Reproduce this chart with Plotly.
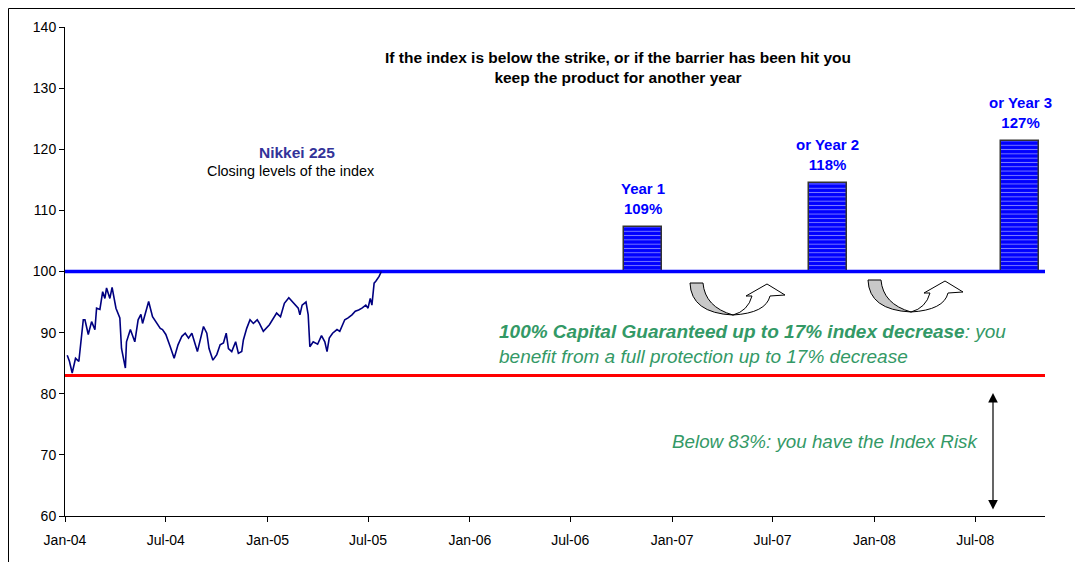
import plotly.graph_objects as go

# ---------------- data ----------------
nikkei_dates = [
    "2004-01-05", "2004-01-09", "2004-01-14", "2004-01-20", "2004-01-26", "2004-02-03",
    "2004-02-06", "2004-02-12", "2004-02-18", "2004-02-24", "2004-02-27", "2004-03-04",
    "2004-03-09", "2004-03-13", "2004-03-16", "2004-03-22", "2004-03-26", "2004-04-02",
    "2004-04-09", "2004-04-12", "2004-04-19", "2004-04-21", "2004-04-28", "2004-05-06",
    "2004-05-12", "2004-05-17", "2004-05-20", "2004-05-31", "2004-06-07", "2004-06-15",
    "2004-06-21", "2004-06-25", "2004-07-01", "2004-07-09", "2004-07-16", "2004-07-23",
    "2004-07-30", "2004-08-05", "2004-08-11", "2004-08-17", "2004-08-23", "2004-08-27",
    "2004-09-07", "2004-09-13", "2004-09-17", "2004-09-24", "2004-10-01", "2004-10-07",
    "2004-10-13", "2004-10-18", "2004-10-22", "2004-10-28", "2004-11-04", "2004-11-09",
    "2004-11-15", "2004-11-18", "2004-11-24", "2004-11-30", "2004-12-06", "2004-12-13",
    "2004-12-17", "2004-12-24", "2005-01-04", "2005-01-11", "2005-01-17", "2005-01-24",
    "2005-01-31", "2005-02-08", "2005-02-14", "2005-02-18", "2005-02-25", "2005-02-28",
    "2005-03-04", "2005-03-11", "2005-03-15", "2005-03-18", "2005-03-24", "2005-04-01",
    "2005-04-08", "2005-04-14", "2005-04-18", "2005-04-22", "2005-04-28", "2005-05-06",
    "2005-05-11", "2005-05-20", "2005-05-26", "2005-06-02", "2005-06-08", "2005-06-14",
    "2005-06-20", "2005-06-27", "2005-07-01", "2005-07-05", "2005-07-08", "2005-07-12",
    "2005-07-15", "2005-07-21", "2005-07-25",
]
nikkei_values = [
    86.3, 85.3, 83.4, 85.8, 85.3, 92.1,
    92.1, 89.7, 91.8, 90.5, 94.0, 93.8,
    96.7, 95.6, 97.3, 95.6, 97.4, 94.0,
    92.4, 87.4, 84.2, 88.5, 90.5, 88.5,
    92.1, 93.0, 91.5, 95.1, 92.6, 91.5,
    90.7, 90.5, 89.7, 87.7, 85.8, 88.0,
    89.4, 89.9, 89.1, 89.9, 88.0, 86.9,
    91.0, 89.9, 87.4, 85.5, 86.4, 88.0,
    88.3, 89.9, 87.4, 86.9, 88.5, 86.6,
    86.9, 88.8, 90.7, 92.1, 91.5, 92.1,
    91.5, 90.2, 91.3, 92.4, 93.2, 92.6,
    94.8, 95.7, 95.1, 94.8, 94.0, 92.9,
    94.5, 95.0, 92.9, 87.7, 88.5, 88.1,
    89.5, 88.5, 86.9, 89.1, 89.9, 90.5,
    90.2, 92.1, 92.4, 92.9, 93.5, 93.7,
    94.0, 94.5, 94.0, 95.6, 94.5, 98.1,
    98.4, 99.2, 100.0,
]

coupon_dates = ["2006-11-09", "2007-10-09", "2008-09-20"]
coupon_bar_tops = [107.2, 114.5, 121.3]
coupon_labels = ["Year 1<br>109%", "or Year 2<br>118%", "or Year 3<br>127%"]

strike_level = 100
barrier_level = 83

axis_start = "2004-01-01"
axis_end = "2008-11-04"

tick_dates = ["2004-01-01", "2004-07-01", "2005-01-01", "2005-07-01", "2006-01-01",
              "2006-07-01", "2007-01-01", "2007-07-01", "2008-01-01", "2008-07-01"]
tick_labels = ["Jan-04", "Jul-04", "Jan-05", "Jul-05", "Jan-06",
               "Jul-06", "Jan-07", "Jul-07", "Jan-08", "Jul-08"]
y_ticks = [60, 70, 80, 90, 100, 110, 120, 130, 140]

# ---------------- layout helpers ----------------
# page is rendered with an 8px body margin
OFF = 8
W, H = 1083 - OFF, 562 - OFF
PX0, PX1, PY0, PY1 = 65, 1045, 27, 516          # plot area in page pixels
L, R = PX0 - OFF, W - (PX1 - OFF)
T, B = PY0 - OFF, H - (PY1 - OFF)
PW, PH = PX1 - PX0, PY1 - PY0


def fx(X):
    return (X - PX0) / PW


def fy(Y):
    return (PY1 - Y) / PH


def path(points_cmds, ox, oy):
    out = []
    for cmd, pts in points_cmds:
        coords = " ".join(f"{fx(ox + a):.5f},{fy(oy + b):.5f}" for a, b in pts)
        out.append(f"{cmd} {coords}")
    return " ".join(out) + " Z"


FONT = "Arial, Liberation Sans, sans-serif"
GREEN = "#339966"
BAR_BLUE = "#0000FF"

fig = go.Figure()

fig.add_trace(go.Bar(
    x=coupon_dates,
    y=[t - strike_level for t in coupon_bar_tops],
    base=strike_level,
    width=[68 * 86400000] * len(coupon_dates),
    marker=dict(color=BAR_BLUE,
                pattern=dict(shape="-", fgcolor="white", size=4.3, solidity=0.22,
                             fillmode="overlay"),
                line=dict(color="#333333", width=1.5)),
    showlegend=False, hoverinfo="skip",
))

fig.add_trace(go.Scatter(
    x=[axis_start, axis_end], y=[strike_level, strike_level], mode="lines",
    line=dict(color="#0000FF", width=3.5), showlegend=False, hoverinfo="skip",
    cliponaxis=False,
))
fig.add_trace(go.Scatter(
    x=[axis_start, axis_end], y=[barrier_level, barrier_level], mode="lines",
    line=dict(color="#FF0000", width=3), showlegend=False, hoverinfo="skip",
    cliponaxis=False,
))
fig.add_trace(go.Scatter(
    x=nikkei_dates, y=nikkei_values, mode="lines",
    line=dict(color="#000080", width=1.6), showlegend=False,
))

annotations = []
for d, top, lab in zip(coupon_dates, coupon_bar_tops, coupon_labels):
    annotations.append(dict(x=d, y=top, xref="x", yref="y", text=f"<b>{lab}</b>",
                            showarrow=False, yanchor="bottom", yshift=8,
                            font=dict(family=FONT, size=15, color=BAR_BLUE)))

annotations += [
    dict(x=fx(618), y=fy(67), xref="paper", yref="paper",
         text="<b>If the index is below the strike, or if the barrier has been hit you<br>keep the product for another year</b>",
         showarrow=False, font=dict(family=FONT, size=15.5, color="black"),
         align="center", xanchor="center", yanchor="middle"),
    dict(x=fx(297), y=fy(153), xref="paper", yref="paper",
         text="<b>Nikkei 225</b>",
         showarrow=False, font=dict(family=FONT, size=15.5, color="#333399"),
         align="center", xanchor="center", yanchor="middle"),
    dict(x=fx(291), y=fy(171), xref="paper", yref="paper",
         text="Closing levels of the index",
         showarrow=False, font=dict(family=FONT, size=14.4, color="black"),
         align="center", xanchor="center", yanchor="middle"),
    dict(x=fx(497), y=fy(344), xref="paper", yref="paper",
         text="<b><i>100% Capital Guaranteed up to 17% index decrease</i></b><i>: you</i><br><i>benefit from a full protection up to 17% decrease</i>",
         showarrow=False, font=dict(family=FONT, size=19, color=GREEN),
         align="left", xanchor="left", yanchor="middle"),
    dict(x=fx(825), y=fy(441), xref="paper", yref="paper",
         text="<i>Below 83%: you have the Index Risk</i>",
         showarrow=False, font=dict(family=FONT, size=18.8, color=GREEN),
         align="center", xanchor="center", yanchor="middle"),
    dict(x=fx(993), y=fy(393), xref="paper", yref="paper", text="",
         showarrow=True, ax=0, ay=118, axref="pixel", ayref="pixel",
         arrowhead=2, arrowside="end+start", arrowsize=1.6, arrowwidth=1.2,
         arrowcolor="black"),
]

shapes = []
for ox, oy in [(688, 281), (866, 278)]:
    gray = path([("M", [(2, 2)]), ("Q", [(3, 32), (45, 34)]), ("Q", [(17, 26), (15, 2)])], ox, oy)
    white = path([("M", [(45, 34)]), ("Q", [(78, 32), (82, 15)]), ("L", [(97, 14)]),
                  ("L", [(79, 3)]), ("L", [(58, 15)]), ("L", [(64, 15)]),
                  ("Q", [(60, 30), (45, 34)])], ox, oy)
    shapes.append(dict(type="path", path=gray, xref="paper", yref="paper",
                       fillcolor="#C8C8C8", line=dict(color="black", width=1)))
    shapes.append(dict(type="path", path=white, xref="paper", yref="paper",
                       fillcolor="white", line=dict(color="black", width=1)))

# outer frame of the original picture (top and left visible)
shapes.append(dict(type="rect", xref="paper", yref="paper",
                   x0=fx(OFF + 0.5), y0=fy(OFF + 0.5), x1=fx(1100), y1=fy(600),
                   line=dict(color="black", width=1), fillcolor="rgba(0,0,0,0)", layer="below"))

fig.update_layout(
    width=W, height=H, autosize=False,
    margin=dict(l=L, r=R, t=T, b=B),
    paper_bgcolor="white", plot_bgcolor="white",
    font=dict(family=FONT, size=12, color="black"),
    bargap=0,
    annotations=annotations,
    shapes=shapes,
    xaxis=dict(type="date", range=[axis_start, axis_end], tickvals=tick_dates,
               ticktext=tick_labels, showgrid=False, zeroline=False, showline=True,
               linecolor="black", linewidth=1, ticks="outside", ticklen=5,
               tickcolor="black", ticklabelstandoff=6,
               tickfont=dict(family=FONT, size=14, color="black")),
    yaxis=dict(range=[60, 140], tickvals=y_ticks, showgrid=False, zeroline=False,
               showline=True, linecolor="black", linewidth=1, ticks="outside",
               ticklen=5, tickcolor="black",
               tickfont=dict(family=FONT, size=14, color="black")),
)

fig.write_html("out.html")
